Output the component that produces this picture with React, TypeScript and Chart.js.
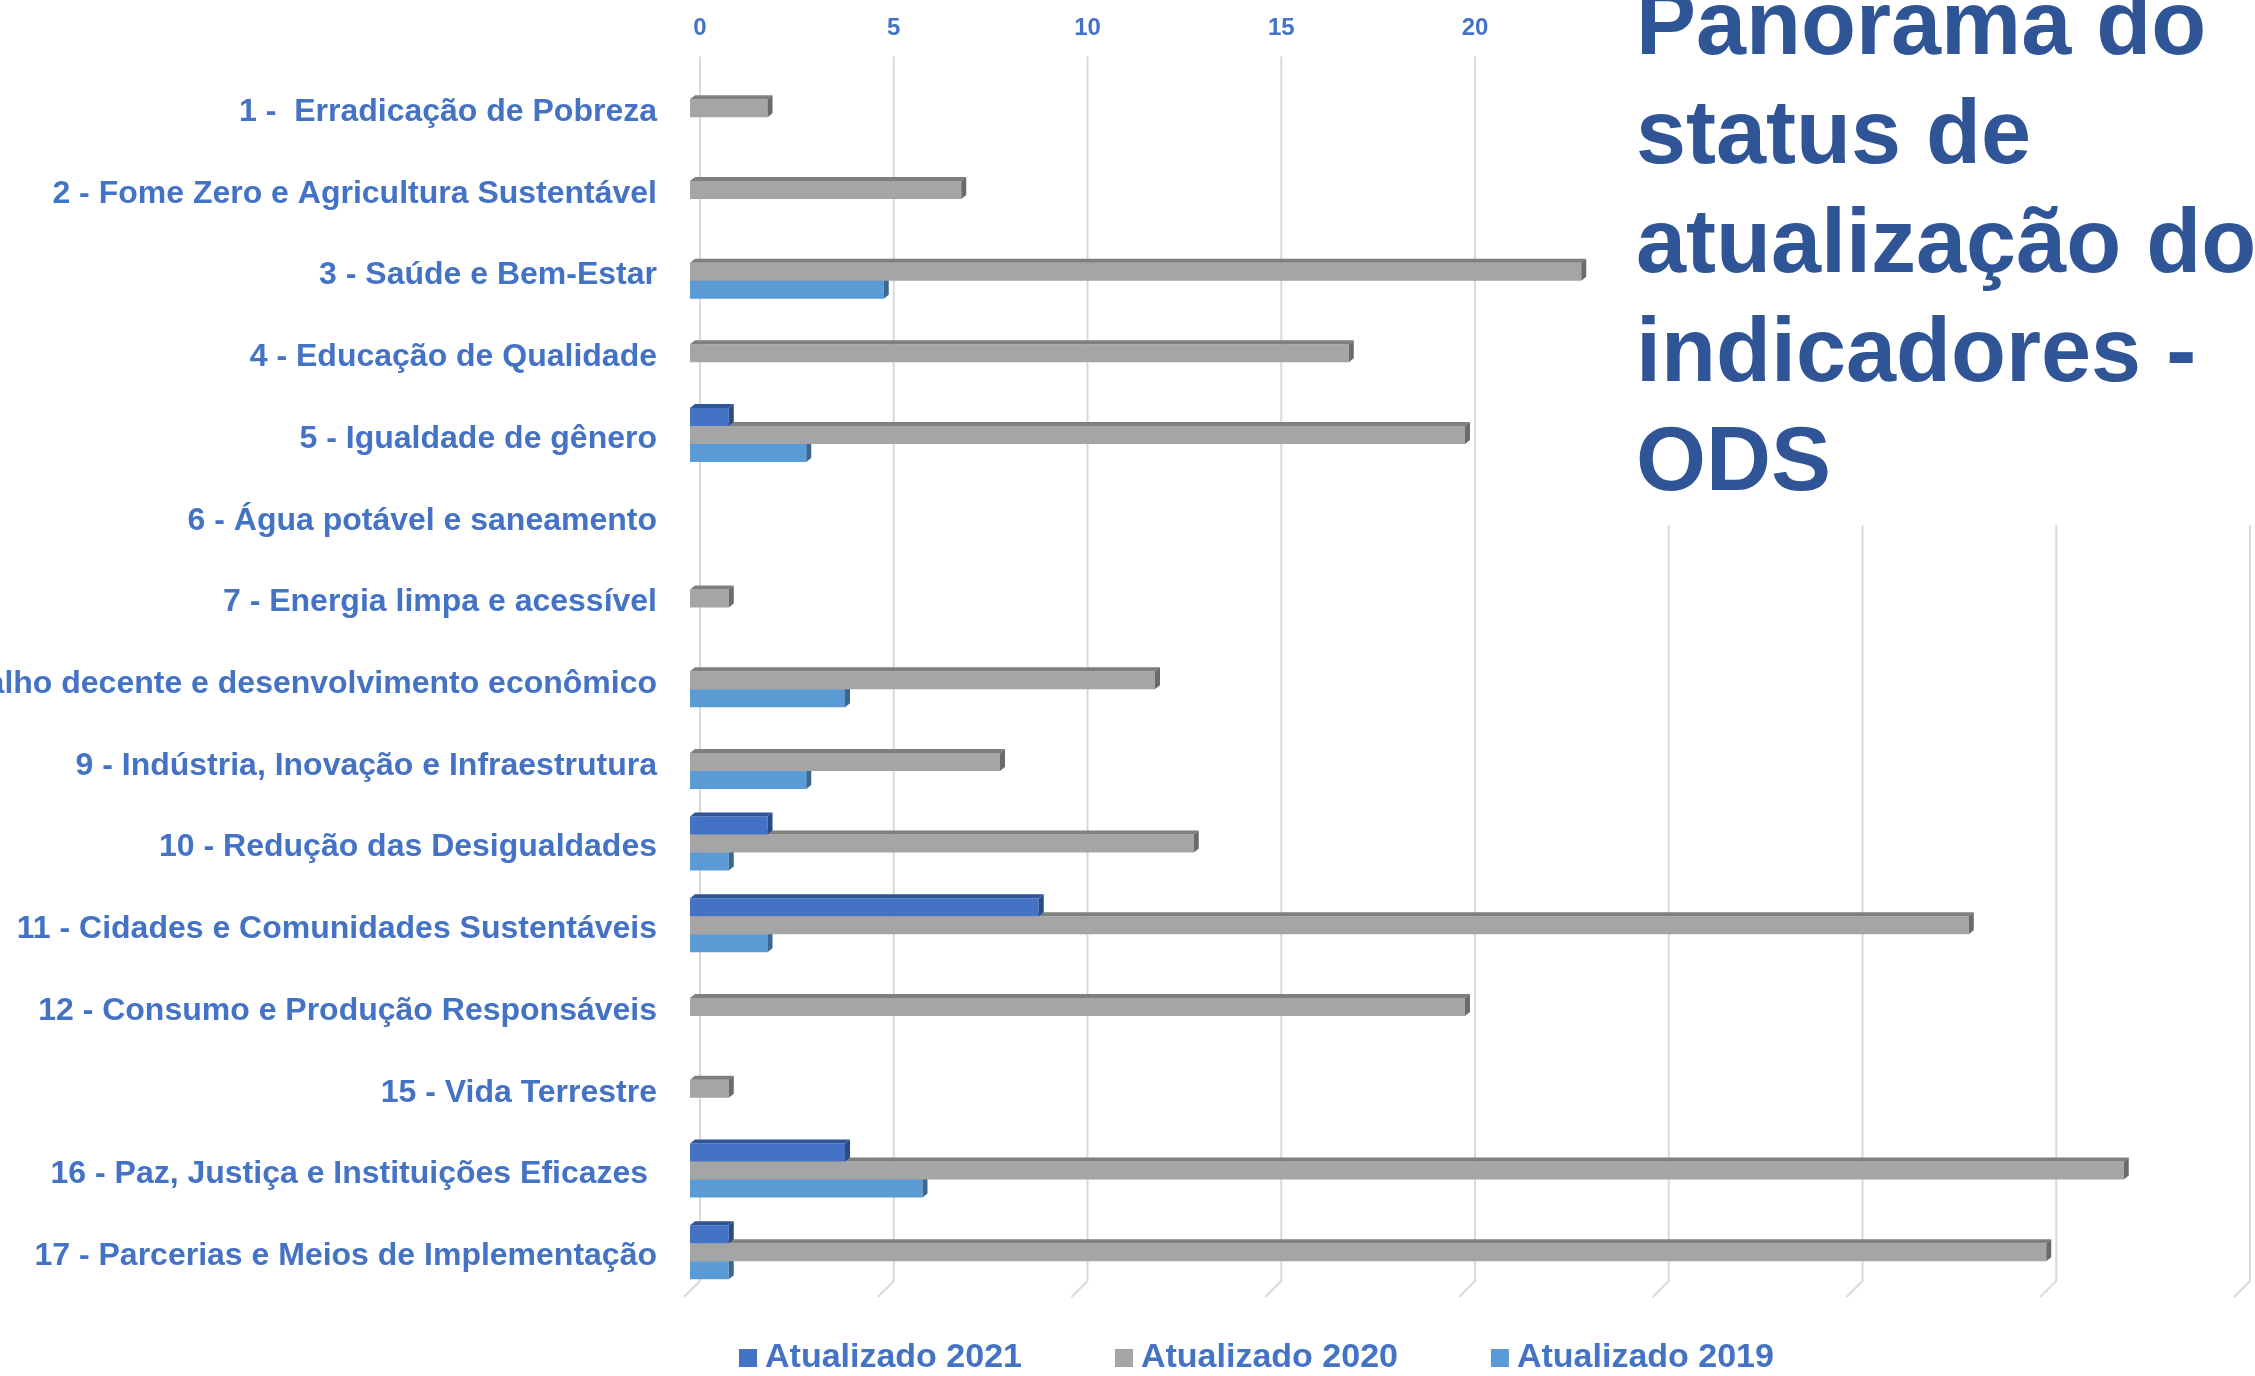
import React, { useEffect, useRef } from 'react';
import { Chart, registerables } from 'chart.js';

Chart.register(...registerables);

const categories = [
  '1 -  Erradicação de Pobreza',
  '2 - Fome Zero e Agricultura Sustentável',
  '3 - Saúde e Bem-Estar',
  '4 - Educação de Qualidade',
  '5 - Igualdade de gênero',
  '6 - Água potável e saneamento',
  '7 - Energia limpa e acessível',
  '8 - Trabalho decente e desenvolvimento econômico',
  '9 - Indústria, Inovação e Infraestrutura',
  '10 - Redução das Desigualdades',
  '11 - Cidades e Comunidades Sustentáveis',
  '12 - Consumo e Produção Responsáveis',
  '15 - Vida Terrestre',
  '16 - Paz, Justiça e Instituições Eficazes ',
  '17 - Parcerias e Meios de Implementação',
];

const atualizado2021 = [0, 0, 0, 0, 1, 0, 0, 0, 0, 2, 9, 0, 0, 4, 1];
const atualizado2020 = [2, 7, 23, 17, 20, 0, 1, 12, 8, 13, 33, 20, 1, 37, 35];
const atualizado2019 = [0, 0, 5, 0, 3, 0, 0, 4, 3, 1, 2, 0, 0, 6, 1];

const seriesNames = ['Atualizado 2021', 'Atualizado 2020', 'Atualizado 2019'];

const xMin = 0;
const xMax = 40;
const xStep = 5;

const titleLines = ['Panorama do', 'status de', 'atualização dos', 'indicadores -', 'ODS'];

const FONT = '"Liberation Sans", Arial, sans-serif';
const LABEL_BLUE = '#4472c4';

const frontColors = ['#4472c4', '#a5a5a5', '#5b9bd5'];
const topColors = ['#2f5597', '#7f7f7f', '#41719c'];
const sideColors = ['#2a4c86', '#6b6b6b', '#3a6891'];

const DX = 5;
const DY = 4;

const bar3d = {
  id: 'bar3d',
  afterDatasetDraw(chart: any, args: any) {
    const ctx = chart.ctx;
    const meta = args.meta;
    const ds = chart.data.datasets[args.index];
    ctx.save();
    meta.data.forEach((el: any, i: number) => {
      const v = ds.data[i];
      if (!v) return;
      const { x, y, base, height } = el.getProps(['x', 'y', 'base', 'height'], true);
      const top = y - height / 2;
      const bottom = y + height / 2;
      ctx.fillStyle = topColors[args.index];
      ctx.beginPath();
      ctx.moveTo(base, top);
      ctx.lineTo(x, top);
      ctx.lineTo(x + DX, top - DY);
      ctx.lineTo(base + DX, top - DY);
      ctx.closePath();
      ctx.fill();
      ctx.fillStyle = sideColors[args.index];
      ctx.beginPath();
      ctx.moveTo(x, top);
      ctx.lineTo(x + DX, top - DY);
      ctx.lineTo(x + DX, bottom - DY);
      ctx.lineTo(x, bottom);
      ctx.closePath();
      ctx.fill();
    });
    ctx.restore();
  },
};

const grid3d = {
  id: 'grid3d',
  beforeDatasetsDraw(chart: any) {
    const { ctx, chartArea } = chart;
    const xs = chart.scales.x;
    ctx.save();
    ctx.strokeStyle = '#d9d9d9';
    ctx.lineWidth = 2;
    xs.ticks.forEach((t: any) => {
      const X = xs.getPixelForValue(t.value);
      ctx.beginPath();
      ctx.moveTo(X + 10, chartArea.top - 11);
      ctx.lineTo(X + 10, chartArea.bottom - 12);
      ctx.lineTo(X - 6, chartArea.bottom + 4);
      ctx.stroke();
    });
    ctx.restore();
  },
};

const customLegend = {
  id: 'customLegend',
  afterDraw(chart: any) {
    const ctx = chart.ctx;
    ctx.save();
    ctx.font = `bold 34px ${FONT}`;
    ctx.textBaseline = 'alphabetic';
    ctx.textAlign = 'left';
    const box = 18;
    const gap = 8;
    const itemGap = 93;
    const baseline = chart.height - 9;
    let x = 739;
    chart.data.datasets.forEach((ds: any) => {
      ctx.fillStyle = ds.backgroundColor;
      ctx.fillRect(x, baseline - box, box, box);
      ctx.fillStyle = LABEL_BLUE;
      ctx.fillText(ds.label, x + box + gap, baseline);
      x += box + gap + ctx.measureText(ds.label).width + itemGap;
    });
    ctx.restore();
  },
};

export default function App() {
  const canvasRef = useRef<HTMLCanvasElement>(null);

  useEffect(() => {
    document.body.style.margin = '0';
    document.body.style.overflow = 'hidden';
    Chart.defaults.font.family = FONT;
    const canvas = canvasRef.current;
    if (!canvas) return;
    const chart = new Chart(canvas, {
      type: 'bar',
      data: {
        labels: categories,
        datasets: [
          { label: seriesNames[0], data: atualizado2021, backgroundColor: frontColors[0] },
          { label: seriesNames[1], data: atualizado2020, backgroundColor: frontColors[1] },
          { label: seriesNames[2], data: atualizado2019, backgroundColor: frontColors[2] },
        ],
      },
      options: {
        responsive: false,
        animation: false,
        indexAxis: 'y',
        layout: { padding: { left: 0, right: 15, top: 0, bottom: 83 } },
        datasets: { bar: { categoryPercentage: 0.661, barPercentage: 1, borderWidth: 0 } },
        plugins: { legend: { display: false }, tooltip: { enabled: false } },
        scales: {
          x: {
            position: 'top',
            min: xMin,
            max: xMax,
            ticks: {
              stepSize: xStep,
              color: LABEL_BLUE,
              font: { size: 24, weight: 'bold' },
              padding: 25,
              labelOffset: 10,
              maxRotation: 0,
              autoSkip: false,
            },
            grid: { display: false, drawTicks: false },
            border: { display: false },
            afterFit: (s: any) => {
              s.height = 67.4;
              s.paddingLeft = 0;
              s.paddingRight = 0;
            },
          },
          y: {
            ticks: {
              color: LABEL_BLUE,
              font: { size: 32, weight: 'bold' },
              padding: 33,
              labelOffset: 4,
              autoSkip: false,
            },
            grid: { display: false, drawTicks: false },
            border: { display: false },
            afterFit: (s: any) => {
              s.width = 690;
              s.paddingTop = 0;
              s.paddingBottom = 0;
            },
          },
        },
      } as any,
      plugins: [grid3d, bar3d, customLegend],
    });
    return () => chart.destroy();
  }, []);

  return (
    <div style={{ position: 'relative', width: 2255, height: 1376, overflow: 'hidden', background: '#fff' }}>
      <canvas ref={canvasRef} width={2255} height={1376} style={{ display: 'block' }} />
      <div
        style={{
          position: 'absolute',
          left: 1600,
          top: 0,
          width: 655,
          height: 525,
          background: '#fff',
          overflow: 'hidden',
        }}
      >
        <div
          style={{
            position: 'absolute',
            left: 36,
            top: -31,
            font: `bold 90px ${FONT}`,
            lineHeight: '109px',
            color: '#2f5597',
            whiteSpace: 'pre',
          }}
        >
          {titleLines.join('\n')}
        </div>
      </div>
    </div>
  );
}
